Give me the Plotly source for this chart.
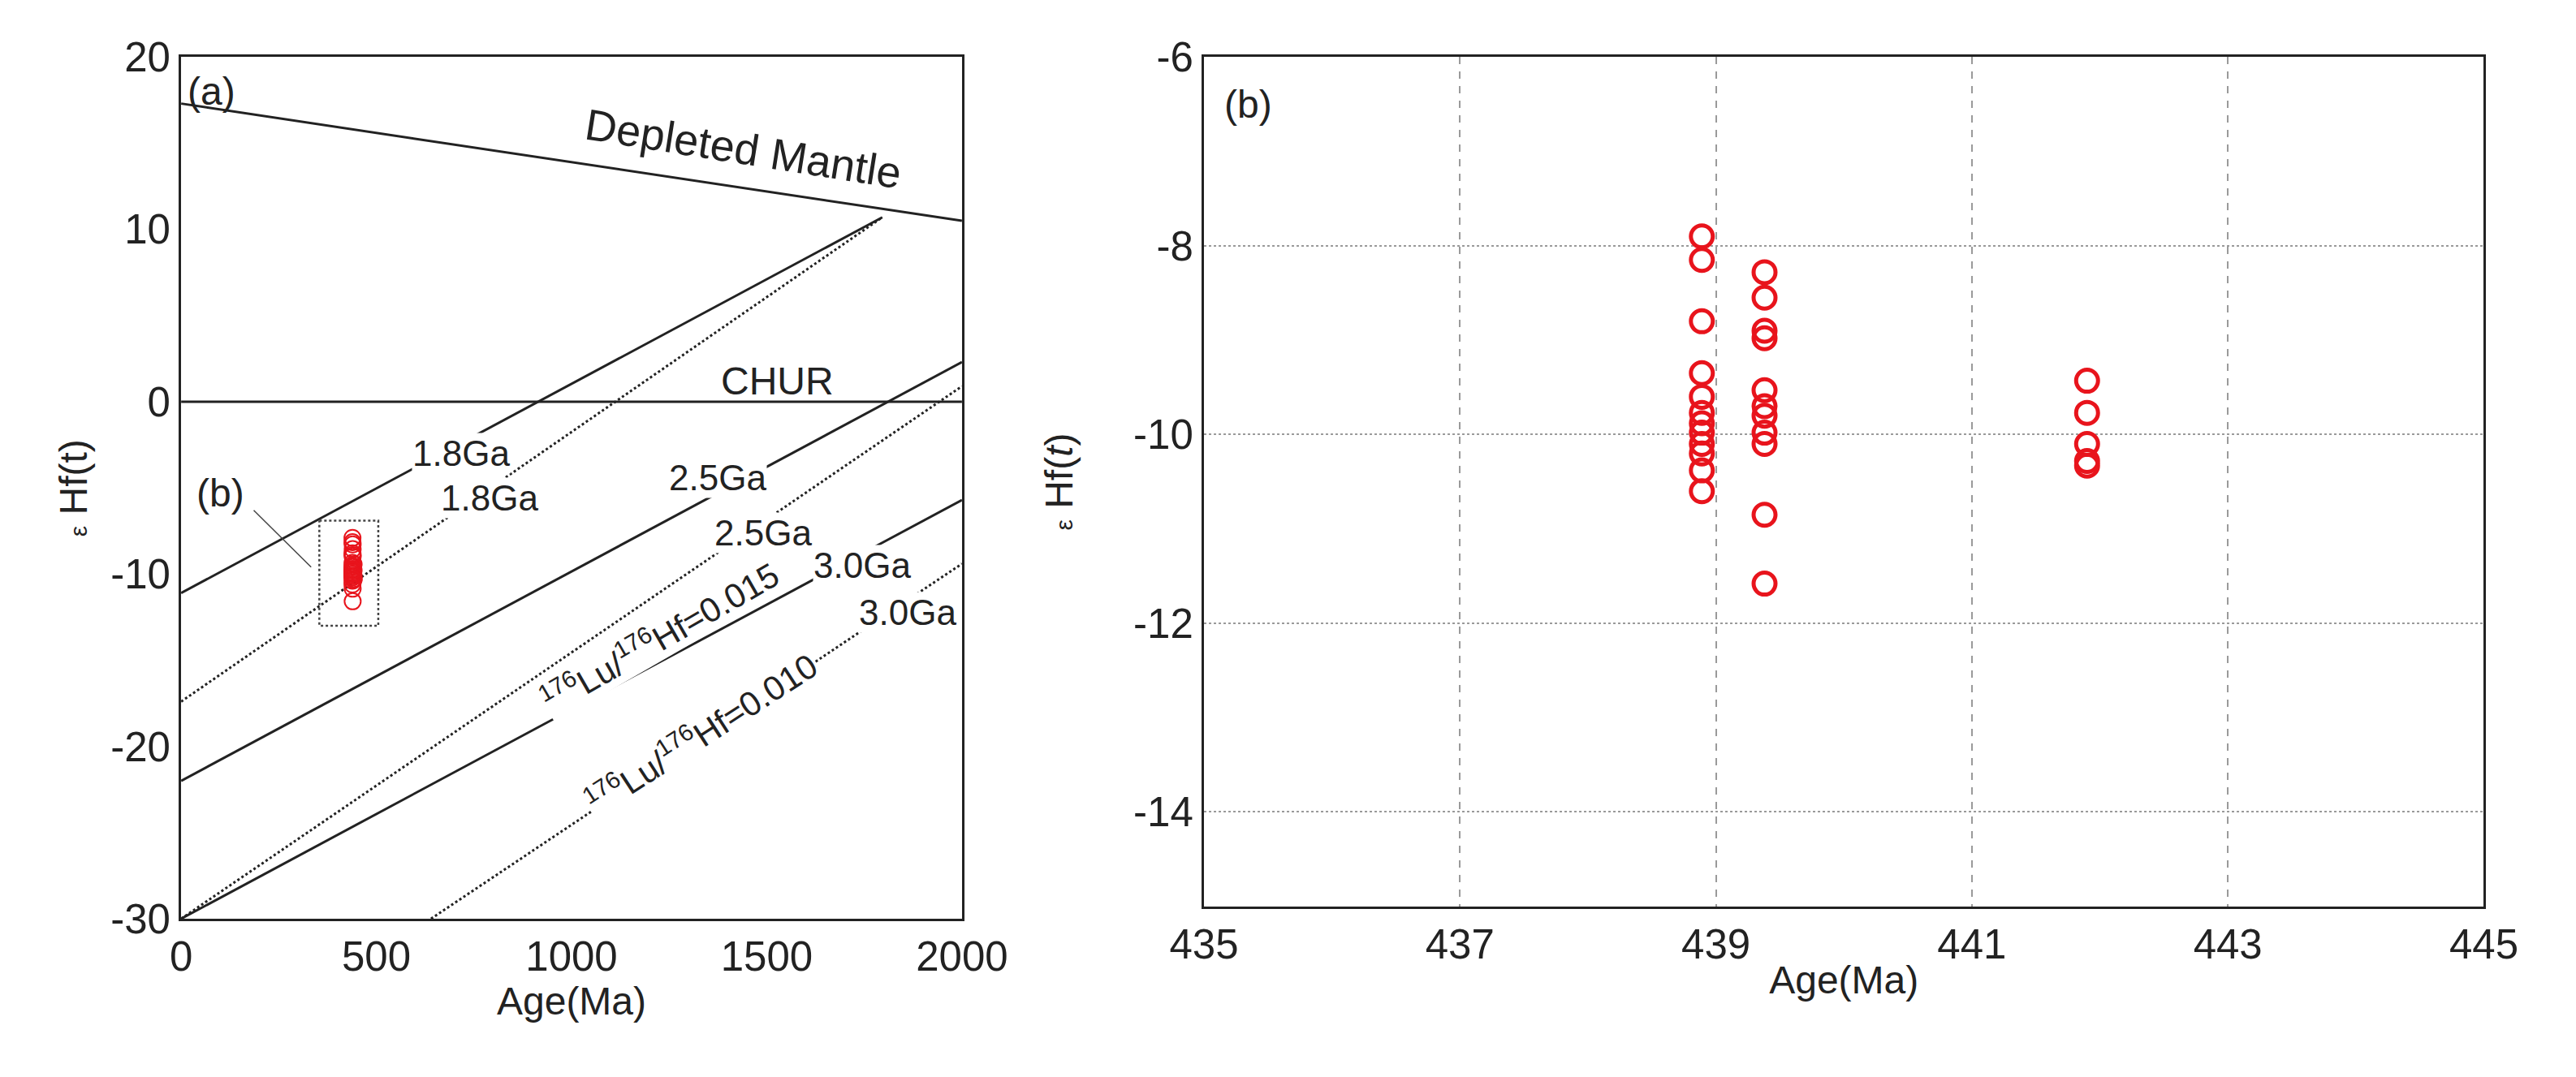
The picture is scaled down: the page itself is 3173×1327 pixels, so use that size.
import plotly.graph_objects as go

# zircon Hf data
age_1 = [438.89] * 12
ehf_1 = [-7.9, -8.15, -8.8, -9.35, -9.6, -9.77, -9.88, -9.98, -10.1, -10.2, -10.38, -10.6]
age_2 = [439.38] * 11
ehf_2 = [-8.28, -8.55, -8.9, -8.98, -9.53, -9.7, -9.8, -9.98, -10.1, -10.85, -11.58]
age_3 = [441.9] * 5
ehf_3 = [-9.43, -9.77, -10.1, -10.28, -10.33]

ages = age_1 + age_2 + age_3
ehfs = ehf_1 + ehf_2 + ehf_3

# evolution lines in panel (a): (x0, y0, x1, y1)
dm_line = (0, 17.3, 2000, 10.5)
chur_line = (0, 0, 2000, 0)
solid_lines = [(0, -11.1, 1796, 10.7), (0, -22.0, 2000, 2.3), (0, -30.0, 2000, -5.7)]
dotted_lines = [(0, -17.4, 1796, 10.7), (0, -30.0, 2000, 0.9), (640, -30.0, 2000, -9.4)]
box_b = (354, -6.9, 505, -13.0)

a_xticks = [0, 500, 1000, 1500, 2000]
a_yticks = [20, 10, 0, -10, -20, -30]
b_xticks = [435, 437, 439, 441, 443, 445]
b_yticks = [-6, -8, -10, -12, -14]

FONT = "Liberation Sans, Arial, sans-serif"
RED = "#e8141c"

fig = go.Figure()

def seg(l, dash, width=3):
    fig.add_trace(go.Scatter(x=[l[0], l[2]], y=[l[1], l[3]], mode="lines",
                             line=dict(color="#222", width=width, dash=dash),
                             xaxis="x", yaxis="y", showlegend=False, hoverinfo="skip"))

seg(dm_line, "solid")
seg(chur_line, "solid")
for l in solid_lines:
    seg(l, "solid")
for l in dotted_lines:
    seg(l, "dot")

fig.add_trace(go.Scatter(x=[box_b[0], box_b[2], box_b[2], box_b[0], box_b[0]],
                         y=[box_b[1], box_b[1], box_b[3], box_b[3], box_b[1]], mode="lines",
                         line=dict(color="#444", width=2.5, dash="dot"),
                         xaxis="x", yaxis="y", showlegend=False))
fig.add_trace(go.Scatter(x=[186, 333], y=[-6.3, -9.6], mode="lines",
                         line=dict(color="#444", width=1.5),
                         xaxis="x", yaxis="y", showlegend=False))
fig.add_trace(go.Scatter(x=ages, y=ehfs, mode="markers",
                         marker=dict(symbol="circle-open", size=20, color=RED, line=dict(width=2)),
                         xaxis="x", yaxis="y", showlegend=False))

# panel (b)
fig.add_trace(go.Scatter(x=ages, y=ehfs, mode="markers",
                         marker=dict(symbol="circle-open", size=27, color=RED, line=dict(width=5)),
                         xaxis="x2", yaxis="y2", showlegend=False))

ax_common = dict(showline=True, linecolor="#222", linewidth=3, mirror=True, ticks="",
                 tickfont=dict(size=51, color="#222"), zeroline=False)

def lab(v):
    return [str(t) for t in v]

fig.update_layout(
    width=3173, height=1327, paper_bgcolor="white", plot_bgcolor="white",
    font=dict(family=FONT, color="#222"),
    margin=dict(l=0, r=0, t=0, b=0),
    xaxis=dict(domain=[0.056, 0.369], range=[0, 2000], tickvals=a_xticks, ticktext=lab(a_xticks),
               showgrid=False, title=dict(text="Age(Ma)", font=dict(size=48), standoff=6),
               anchor="y", **ax_common),
    yaxis=dict(domain=[0.137, 0.973], range=[-30, 20], tickvals=a_yticks, ticktext=lab(a_yticks),
               showgrid=False, title=dict(text="<span style='font-size:30px'>ε</span> Hf(t)",
                                          font=dict(size=48), standoff=14),
               anchor="x", **ax_common),
    xaxis2=dict(domain=[0.466, 0.979], range=[435, 445], tickvals=b_xticks, ticktext=lab(b_xticks),
                showgrid=True, gridcolor="#9a9a9a", gridwidth=2, griddash="dash",
                title=dict(text="Age(Ma)", font=dict(size=48), standoff=0),
                anchor="y2", **ax_common),
    yaxis2=dict(domain=[0.149, 0.973], range=[-15, -6], tickvals=b_yticks, ticktext=lab(b_yticks),
                showgrid=True, gridcolor="#9a9a9a", gridwidth=2, griddash="dot",
                title=dict(text="<span style='font-size:30px'>ε</span> Hf(<i>t</i>)",
                           font=dict(size=48), standoff=60),
                anchor="x2", **ax_common),
)

def note(x, y, text, size=44, angle=0, bg=None, ref="", xanchor="center"):
    fig.add_annotation(x=x, y=y, xref="x" + ref, yref="y" + ref, text=text, showarrow=False,
                       font=dict(size=size, color="#222"), textangle=angle,
                       bgcolor=bg, xanchor=xanchor, borderpad=0)

note(15, 18.0, "(a)", size=48, xanchor="left")
note(1440, 14.7, "Depleted Mantle", size=54, angle=9)
note(1527, 1.2, "CHUR", size=48)
note(717, -3.0, "1.8Ga", bg="white")
note(790, -5.6, "1.8Ga", bg="white")
note(1375, -4.4, "2.5Ga", bg="white")
note(1490, -7.6, "2.5Ga", bg="white")
note(1745, -9.5, "3.0Ga", bg="white")
note(1860, -12.2, "3.0Ga", bg="white")
note(1225, -13.6, "<sup>176</sup>Lu/<sup>176</sup>Hf=0.015", size=42, angle=-30, bg="white")
note(1330, -19.2, "<sup>176</sup>Lu/<sup>176</sup>Hf=0.010", size=42, angle=-33, bg="white")
note(100, -5.3, "(b)", size=48)
note(435.15, -6.5, "(b)", size=48, ref="2", xanchor="left")

fig.write_html("out.html")
